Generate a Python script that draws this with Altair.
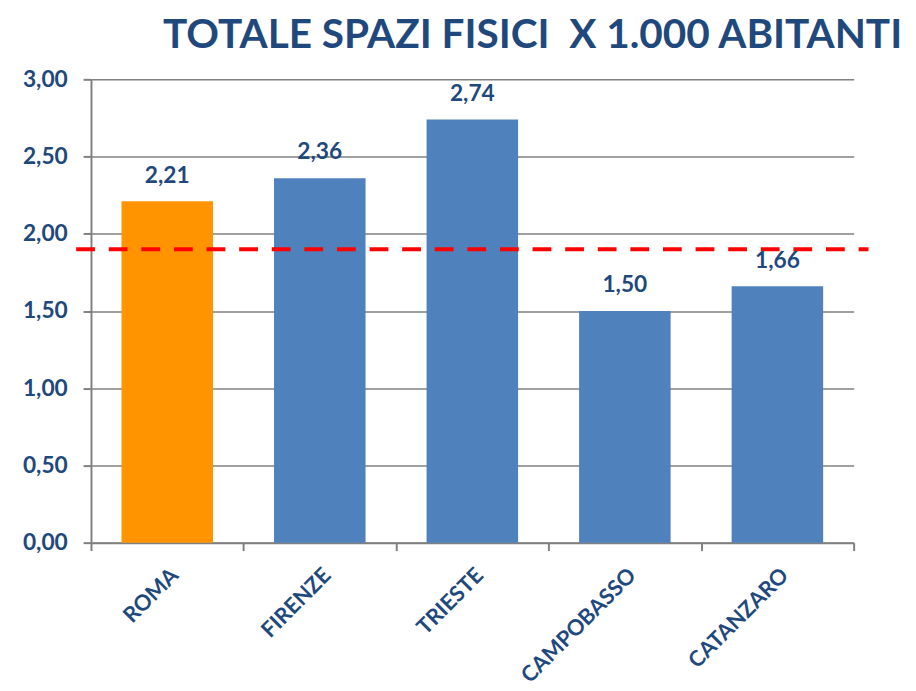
import altair as alt
import pandas as pd

cities = ["ROMA", "FIRENZE", "TRIESTE", "CAMPOBASSO", "CATANZARO"]
values = [2.21, 2.36, 2.74, 1.50, 1.66]
colors = ["#FF9400", "#4F81BD", "#4F81BD", "#4F81BD", "#4F81BD"]
reference_value = [1.90]

df = pd.DataFrame({"city": cities, "value": values, "color": colors})
ref = pd.DataFrame({"ref": reference_value})

FONT = "Lato"
DARK = "#1F497D"
W, H = 772, 469

x_enc = alt.X("city:N", sort=cities, title=None,
              scale=alt.Scale(paddingInner=0, paddingOuter=0),
              axis=alt.Axis(labelAngle=-45, labelFont=FONT, labelFontSize=22,
                            labelFontWeight="bold", labelColor=DARK,
                            labelPadding=14, tickBand="extent", tickSize=8,
                            tickColor="#808080", tickWidth=2,
                            domainColor="#808080", domainWidth=2, grid=False))
y_enc = alt.Y("value:Q", title=None,
              scale=alt.Scale(domain=[0, 3], nice=False),
              axis=alt.Axis(values=[0, 0.5, 1, 1.5, 2, 2.5, 3],
                            labelExpr="replace(format(datum.value, '.2f'), '.', ',')",
                            labelFont=FONT, labelFontSize=23, labelFontWeight="bold",
                            labelColor=DARK, labelPadding=16, tickSize=8,
                            tickColor="#808080", tickWidth=2,
                            domainColor="#808080", domainWidth=2,
                            gridColor="#808080", gridWidth=1.5))

bars = alt.Chart(df).mark_bar(width=alt.RelativeBandSize(0.6)).encode(
    x=x_enc, y=y_enc,
    color=alt.Color("color:N", scale=None),
)

labels = alt.Chart(df).transform_calculate(
    lbl="replace(format(datum.value, '.2f'), '.', ',')"
).mark_text(font=FONT, fontSize=23, fontWeight="bold", color=DARK,
            baseline="bottom", dy=-14).encode(
    x=alt.X("city:N", sort=cities),
    y=alt.Y("value:Q"),
    text="lbl:N",
)

rule = alt.Chart(ref).mark_rule(color="#FF0000", strokeWidth=4,
                                strokeDash=[19, 14]).encode(
    y=alt.Y("ref:Q"),
    x=alt.value(-15),
    x2=alt.value(W + 15),
)

chart = alt.layer(bars, rule, labels).properties(
    width=W, height=H,
    background="white",
    padding={"left": 14, "top": 3, "right": 5, "bottom": 5},
    title=alt.TitleParams("TOTALE SPAZI FISICI\u00a0 X 1.000 ABITANTI",
                          font=FONT, fontSize=41, fontWeight="bold",
                          color=DARK, anchor="middle", dx=61, offset=12),
).configure_view(stroke=None)

chart.save("out.html", embed_options={"renderer": "svg", "actions": False})
